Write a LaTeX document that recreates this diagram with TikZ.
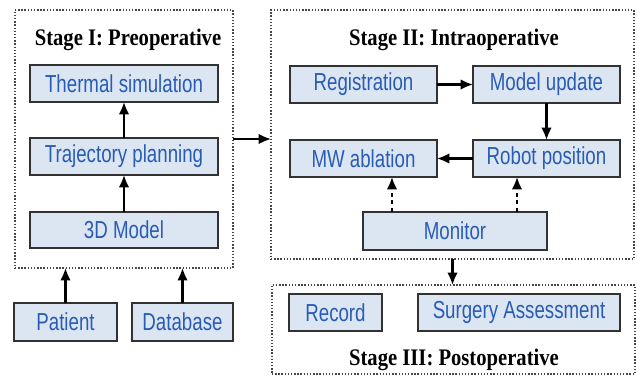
\documentclass[tikz,border=0pt]{standalone}
\usepackage{fontspec}
\usetikzlibrary{arrows.meta}
\newfontfamily\boxfont[FakeStretch=0.76]{Liberation Sans}
\newfontfamily\titlefont[FakeStretch=0.87]{Liberation Serif}
\definecolor{boxfill}{RGB}{220,230,243}
\definecolor{boxtext}{RGB}{40,92,180}
\definecolor{boxborder}{RGB}{50,50,50}
\definecolor{stageborder}{RGB}{70,70,70}
\tikzset{
  box/.style={draw=boxborder, line width=1pt, fill=boxfill, text=boxtext,
    font=\boxfont\fontsize{14}{16}\selectfont, inner sep=0pt, outer sep=0pt},
  stagebox/.style={draw=stageborder, densely dotted, line width=0.8pt, inner sep=0pt, outer sep=0pt},
  stagetitle/.style={font=\titlefont\bfseries\fontsize{13.5}{15}\selectfont, text=black, inner sep=0pt, anchor=base},
  arr/.style={-{Latex[length=7pt,width=6pt]}, line width=1.2pt, black},
  darr/.style={-{Latex[length=7pt,width=6pt]}, line width=1.2pt, black, dash pattern=on 2.5pt off 1.8pt}
}
\newcommand\mkbox[7]{%
  \node[#7, minimum width={(#4-#2)*0.02cm}, minimum height={(#5-#3)*0.02cm}]
    (#1) at ({(#2+#4)/2},{(#3+#5)/2}) {#6};}
\begin{document}
\begin{tikzpicture}[x=0.02cm, y=-0.02cm]
\useasboundingbox[fill=white] (0,0) rectangle (637,376);
% Stage frames
\mkbox{stageI}{15}{10}{233}{268}{}{stagebox}
\mkbox{stageII}{271}{10}{634}{259}{}{stagebox}
\mkbox{stageIII}{272}{285}{635}{374}{}{stagebox}
% Titles
\node[stagetitle] (t1) at (128,45) {Stage I: Preoperative};
\node[stagetitle] (t2) at (454,45) {Stage II: Intraoperative};
\node[stagetitle] (t3) at (454,365) {Stage III: Postoperative};
% Stage I boxes
\mkbox{therm}{30}{65}{218}{102}{Thermal simulation}{box}
\mkbox{traj}{30}{138}{218}{175}{Trajectory planning}{box}
\mkbox{model}{30}{212}{218}{248}{3D Model}{box}
\mkbox{patient}{14}{303}{117}{341}{Patient}{box}
\mkbox{database}{132}{303}{233}{341}{Database}{box}
% Stage II boxes
\mkbox{reg}{290}{66}{437}{103}{Registration}{box}
\mkbox{mupd}{473}{66}{620}{103}{Model update}{box}
\mkbox{mwabl}{290}{140}{437}{177}{MW ablation}{box}
\mkbox{robot}{473}{140}{620}{177}{Robot position}{box}
\mkbox{monitor}{363}{212}{547}{250}{Monitor}{box}
% Stage III boxes
\mkbox{record}{289}{294}{382}{331}{Record}{box}
\mkbox{surgery}{418}{294}{620}{331}{Surgery Assessment}{box}
% Connectors
\draw[arr] (patient.north) -- (patient.north |- stageI.south);
\draw[arr] (database.north) -- (database.north |- stageI.south);
\draw[arr] (model.north) -- (traj.south);
\draw[arr] (traj.north) -- (therm.south);
\draw[arr] (stageI.east) -- (stageI.east -| stageII.west);
\draw[arr] (reg.east) -- (mupd.west);
\draw[arr] (mupd.south) -- (robot.north);
\draw[arr] (robot.west) -- (mwabl.east);
\coordinate (d1) at ([xshift=0.58cm]monitor.north west);
\coordinate (d2) at ([xshift=-0.6cm]monitor.north east);
\draw[darr] (d1) -- (d1 |- mwabl.south);
\draw[darr] (d2) -- (d2 |- robot.south);
\draw[arr] (stageII.south) -- (stageII.south |- stageIII.north);
\end{tikzpicture}
\end{document}
